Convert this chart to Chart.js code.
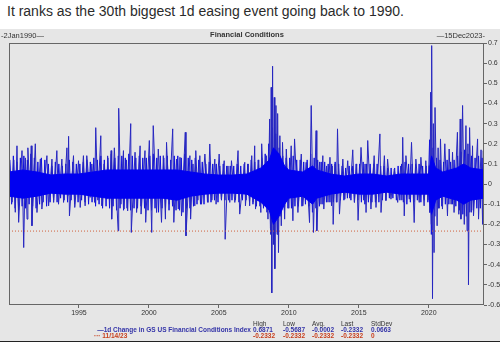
<!DOCTYPE html>
<html>
<head>
<meta charset="utf-8">
<script src="https://cdn.jsdelivr.net/npm/chart.js@4.4.0/dist/chart.umd.min.js"></script>
<style>
  body { margin: 0; width: 500px; height: 350px; background: #fff; position: relative; overflow: hidden; font-family: "Liberation Sans", Arial, sans-serif; }
  #headline { position: absolute; left: 7px; top: 3px; font-size: 14px; color: #2b2b2b; white-space: nowrap; }
  #panel { position: absolute; left: 0; top: 29px; width: 500px; height: 312px; background: #e6e6e6; border-bottom: 1px solid #222; }
  #panel canvas { position: absolute; left: 0; top: 1px; }
  .small { position: absolute; font-size: 6.5px; white-space: nowrap; line-height: 7px; }
  .top { font-size: 7.5px; line-height: 8px; }
  .hdr { color: #333; }
  .blue { color: #3434a8; font-weight: bold; }
  .red { color: #c8401e; font-weight: bold; }
</style>
</head>
<body>
<div id="headline">It ranks as the 30th biggest 1d easing event going back to 1990.</div>
<div id="panel">
  <canvas id="grafico" width="500" height="311"></canvas>
  <div class="small top hdr" style="left:1px;top:3px;">-2Jan1990—</div>
  <div class="small top hdr" style="left:0;width:494px;top:2px;text-align:center;font-weight:bold;">Financial Conditions</div>
  <div class="small top hdr" style="right:15px;top:3px;">—15Dec2023-</div>
</div>
<div id="stats"></div>

<script>
// solid core of the band
const coreYears  = [1990, 1991, 1992, 1993, 1994, 1995, 1996, 1997, 1998, 1999, 2000, 2001, 2002, 2003, 2004, 2005, 2006, 2007, 2008, 2008.6, 2008.9, 2009.3, 2009.7, 2010, 2011, 2011.7, 2012, 2013, 2014, 2015, 2016, 2017, 2018, 2019, 2020, 2020.2, 2020.5, 2021, 2022, 2022.5, 2023, 2023.95];
const coreTop    = [0.06, 0.07, 0.06, 0.045, 0.05, 0.05, 0.06, 0.07, 0.07, 0.07, 0.07, 0.07, 0.07, 0.06, 0.05, 0.045, 0.045, 0.05, 0.08, 0.12, 0.18, 0.15, 0.09, 0.07, 0.06, 0.09, 0.07, 0.05, 0.04, 0.05, 0.05, 0.04, 0.05, 0.05, 0.05, 0.14, 0.08, 0.06, 0.08, 0.10, 0.08, 0.07];
const coreBottom = [-0.06, -0.07, -0.06, -0.045, -0.05, -0.05, -0.06, -0.07, -0.07, -0.07, -0.07, -0.07, -0.08, -0.06, -0.05, -0.045, -0.045, -0.05, -0.09, -0.13, -0.20, -0.16, -0.10, -0.07, -0.06, -0.10, -0.07, -0.05, -0.04, -0.05, -0.05, -0.04, -0.05, -0.05, -0.05, -0.15, -0.08, -0.06, -0.08, -0.10, -0.08, -0.07];

// ragged edge of the band: 8 alternating readings per year, 1990..2023
const rippleStart = 1990;
const ripples = [
  [0.12, -0.10, 0.14, -0.12, 0.11, -0.13, 0.13, -0.11],
  [0.14, -0.12, 0.12, -0.10, 0.15, -0.11, 0.13, -0.12],
  [0.11, -0.10, 0.13, -0.09, 0.12, -0.11, 0.10, -0.09],
  [0.09, -0.08, 0.11, -0.09, 0.10, -0.07, 0.09, -0.08],
  [0.10, -0.09, 0.12, -0.08, 0.11, -0.10, 0.10, -0.09],
  [0.10, -0.08, 0.11, -0.09, 0.12, -0.10, 0.11, -0.09],
  [0.13, -0.11, 0.12, -0.10, 0.14, -0.12, 0.12, -0.11],
  [0.13, -0.12, 0.15, -0.11, 0.13, -0.13, 0.14, -0.12],
  [0.14, -0.13, 0.13, -0.12, 0.15, -0.13, 0.14, -0.12],
  [0.13, -0.12, 0.14, -0.11, 0.13, -0.12, 0.13, -0.13],
  [0.14, -0.13, 0.15, -0.12, 0.13, -0.14, 0.14, -0.12],
  [0.13, -0.12, 0.14, -0.13, 0.12, -0.11, 0.14, -0.13],
  [0.14, -0.13, 0.13, -0.14, 0.15, -0.12, 0.13, -0.12],
  [0.12, -0.11, 0.13, -0.10, 0.12, -0.10, 0.11, -0.10],
  [0.10, -0.09, 0.11, -0.09, 0.10, -0.08, 0.10, -0.09],
  [0.09, -0.08, 0.10, -0.08, 0.09, -0.08, 0.09, -0.08],
  [0.09, -0.08, 0.10, -0.09, 0.09, -0.08, 0.10, -0.08],
  [0.10, -0.09, 0.12, -0.10, 0.11, -0.11, 0.12, -0.11],
  [0.13, -0.12, 0.15, -0.14, 0.20, -0.22, 0.28, -0.26],
  [0.25, -0.24, 0.18, -0.16, 0.14, -0.13, 0.13, -0.12],
  [0.13, -0.12, 0.14, -0.11, 0.12, -0.11, 0.12, -0.11],
  [0.11, -0.10, 0.12, -0.11, 0.15, -0.14, 0.13, -0.12],
  [0.12, -0.11, 0.11, -0.10, 0.11, -0.09, 0.10, -0.09],
  [0.10, -0.09, 0.11, -0.09, 0.10, -0.08, 0.09, -0.08],
  [0.08, -0.07, 0.09, -0.08, 0.09, -0.09, 0.10, -0.08],
  [0.10, -0.09, 0.11, -0.10, 0.10, -0.09, 0.10, -0.09],
  [0.10, -0.09, 0.10, -0.09, 0.09, -0.08, 0.09, -0.08],
  [0.08, -0.07, 0.08, -0.07, 0.08, -0.08, 0.09, -0.08],
  [0.10, -0.09, 0.11, -0.10, 0.10, -0.09, 0.10, -0.09],
  [0.10, -0.08, 0.10, -0.09, 0.09, -0.08, 0.09, -0.09],
  [0.22, -0.25, 0.18, -0.16, 0.13, -0.12, 0.12, -0.11],
  [0.11, -0.10, 0.12, -0.10, 0.11, -0.10, 0.12, -0.11],
  [0.14, -0.13, 0.16, -0.15, 0.17, -0.16, 0.15, -0.14],
  [0.14, -0.13, 0.13, -0.12, 0.14, -0.12, 0.13, -0.12]
];

// swings [year, 1d change]
const swings = [
  [1990.00,0.15],[1990.22,-0.09],[1990.34,0.12],[1990.45,-0.14],[1990.57,0.19],[1990.69,-0.19],[1990.93,0.166],[1991.05,-0.315],[1991.17,0.13],[1991.29,-0.174],[1991.35,0.18],[1991.50,-0.06],[1991.59,0.19],[1991.64,-0.207],[1991.88,0.20],[1992.00,-0.141],[1992.24,0.124],[1992.35,-0.124],[1992.71,0.141],[1992.83,-0.108],[1993.07,0.124],[1993.19,-0.091],[1993.42,0.166],[1993.54,-0.10],[1993.78,0.124],[1993.90,-0.091],[1994.14,0.18],[1994.20,-0.06],[1994.26,0.237],[1994.32,-0.158],[1994.61,0.141],[1994.70,-0.116],[1994.97,0.116],[1995.09,-0.116],[1995.32,0.141],[1995.44,-0.108],[1995.56,0.141],
  [1995.80,-0.066],[1995.92,0.10],[1996.12,-0.091],[1996.20,0.28],[1996.35,-0.08],[1996.56,0.24],[1996.63,-0.108],[1996.80,0.10],[1996.99,-0.075],[1997.05,0.14],[1997.18,-0.08],[1997.30,0.166],[1997.34,-0.174],[1997.53,0.18],[1997.80,-0.232],[1997.84,0.376],[1998.00,-0.10],[1998.18,0.166],[1998.22,-0.124],[1998.40,0.12],[1998.48,-0.133],[1998.70,0.30],[1998.74,-0.24],[1999.01,0.158],[1999.12,-0.141],[1999.37,0.19],[1999.44,-0.149],[1999.72,0.166],[1999.77,-0.19],[2000.03,0.216],[2000.20,-0.24],[2000.31,0.29],[2000.55,-0.141],[2000.67,0.174],[2000.90,-0.19],[2001.03,0.141],[2001.18,-0.174],[2001.26,0.207],
  [2001.45,-0.10],[2001.70,0.274],[2001.78,-0.19],[2001.97,0.124],[2002.10,-0.124],[2002.22,0.133],[2002.33,-0.158],[2002.60,0.257],[2002.65,-0.257],[2002.93,0.141],[2002.98,-0.174],[2003.15,0.10],[2003.28,-0.108],[2003.35,0.166],[2003.50,-0.08],[2003.64,0.141],[2003.76,-0.10],[2004.00,0.149],[2004.23,-0.091],[2004.35,0.199],[2004.50,-0.08],[2004.71,0.124],[2004.80,-0.10],[2005.02,0.149],[2005.18,-0.075],[2005.38,0.116],[2005.45,-0.274],[2005.65,0.09],[2005.78,-0.091],[2005.90,0.116],[2006.14,-0.091],[2006.37,0.166],[2006.49,-0.149],[2006.85,0.108],[2006.90,-0.108],
  [2007.10,0.10],[2007.20,-0.108],[2007.35,0.141],[2007.45,-0.09],[2007.56,0.19],[2007.62,-0.124],[2007.85,0.12],[2008.00,-0.141],[2008.06,0.20],[2008.25,-0.10],[2008.39,0.141],[2008.51,-0.174],[2008.63,0.323],[2008.70,-0.25],[2008.74,0.48],[2008.78,-0.54],[2008.84,0.585],[2008.90,-0.30],[2008.96,0.43],[2009.00,-0.42],[2009.08,0.39],[2009.16,-0.25],[2009.20,0.35],[2009.26,-0.34],[2009.36,0.24],[2009.46,-0.207],[2009.55,0.207],[2009.70,-0.174],[2009.82,0.174],[2010.00,-0.12],[2010.17,0.19],[2010.29,-0.182],[2010.41,0.224],[2010.65,-0.141],[2010.89,0.149],[2011.00,-0.108],[2011.24,0.108],[2011.48,-0.191],[2011.60,0.39],[2011.76,-0.24],[2011.95,0.265],[2012.00,-0.232],[2012.20,0.11],[2012.30,-0.10],[2012.43,0.141],[2012.50,-0.124],
  [2012.70,0.09],[2012.80,-0.09],[2012.94,0.133],[2013.05,-0.108],[2013.10,0.09],[2013.17,-0.20],[2013.30,0.10],[2013.40,-0.09],[2013.48,0.274],[2013.62,-0.149],[2013.86,0.124],[2014.00,-0.075],[2014.21,0.116],[2014.35,-0.07],[2014.57,0.17],[2014.69,-0.091],[2014.85,0.10],[2014.95,-0.18],[2015.16,0.182],[2015.35,-0.08],[2015.45,0.10],[2015.52,-0.141],[2015.64,0.216],[2015.87,-0.124],[2016.10,0.141],[2016.23,-0.116],[2016.51,0.249],[2016.59,-0.141],[2016.83,0.141],[2016.94,-0.083],[2017.06,0.124],[2017.30,-0.075],[2017.54,0.075],[2017.78,-0.091],[2018.00,0.09],[2018.08,-0.08],[2018.14,0.232],[2018.25,-0.158],[2018.37,0.141],
  [2018.61,-0.075],[2018.77,0.207],[2018.96,-0.191],[2019.08,0.124],[2019.32,-0.091],[2019.44,0.133],[2019.67,-0.108],[2019.79,0.116],[2019.95,-0.08],[2020.03,0.091],[2020.08,-0.141],[2020.14,0.456],[2020.18,-0.20],[2020.21,0.6871],[2020.27,-0.5687],[2020.33,0.30],[2020.38,-0.34],[2020.45,0.38],[2020.60,-0.207],[2020.67,0.18],[2020.75,-0.12],[2020.84,0.224],[2020.98,-0.124],[2021.15,0.20],[2021.34,-0.158],[2021.46,0.174],[2021.60,-0.10],[2021.70,0.158],[2021.81,-0.141],[2022.05,0.257],[2022.15,-0.15],[2022.25,0.323],[2022.30,-0.174],[2022.42,0.39],[2022.54,-0.20],[2022.66,0.29],[2022.74,-0.232],[2022.80,0.20],[2022.84,-0.50],[2022.92,0.28],[2023.05,-0.14],[2023.13,0.19],[2023.20,-0.158],[2023.49,0.224],[2023.56,-0.174],[2023.74,0.17],[2023.85,-0.20],[2023.90,0.166],[2023.95,-0.2332]
];

const refLevel = -0.2332;           // 11/14/23 move
const startYear = 1990, endYear = 2023.95;
const tickYears = [1995, 2000, 2005, 2010, 2015, 2020];

const statHeaders = ["High", "Low", "Avg.", "Last", "StdDev"];
const seriesName = "1d Change in GS US Financial Conditions Index";
const seriesStats = ["0.6871", "-0.5687", "-0.0002", "-0.2332", "0.0663"];
const refName = "11/14/23";
const refStats = ["-0.2332", "-0.2332", "-0.2332", "-0.2332", "0"];

// tabla de estadísticas
const stats = document.getElementById("stats");
const colX = [253, 283, 312, 341, 371];
function fila(valores, top, clase) {
  valores.forEach((v, i) => {
    stats.innerHTML += `<div class="small ${clase}" style="left:${colX[i]}px;top:${top}px;">${v}</div>`;
  });
}
fila(statHeaders, 320, "hdr");
stats.innerHTML += `<div class="small blue" style="right:249px;top:326px;">—${seriesName}</div>`;
fila(seriesStats, 326, "blue");
stats.innerHTML += `<div class="small red" style="left:94px;top:331.5px;">··· ${refName}</div>`;
fila(refStats, 331.5, "red");

const ripplePoints = [];
ripples.forEach((fila, i) => {
  fila.forEach((v, k) => ripplePoints.push({ x: rippleStart + i + (k + 0.5) / fila.length, y: v }));
});

const marco = {
  id: "marco",
  afterDraw(chart) {
    const { ctx, chartArea: a } = chart;
    ctx.save();
    ctx.strokeStyle = "#666";
    ctx.lineWidth = 1;
    ctx.strokeRect(Math.round(a.left) + 0.5, Math.round(a.top) + 0.5, Math.round(a.right - a.left) - 1, Math.round(a.bottom - a.top) - 1);
    ctx.restore();
  }
};

new Chart(document.getElementById("grafico"), {
  type: "line",
  data: {
    datasets: [
      {
        data: [{ x: startYear, y: refLevel }, { x: endYear, y: refLevel }],
        borderColor: "#d0603c",
        borderWidth: 1,
        borderDash: [1, 2],
        pointRadius: 0,
        order: 0
      },
      {
        data: coreYears.map((x, i) => ({ x, y: coreTop[i] })),
        borderColor: "#0000f0",
        borderWidth: 1,
        backgroundColor: "#0000f0",
        fill: "+1",
        pointRadius: 0,
        order: 1
      },
      {
        data: coreYears.map((x, i) => ({ x, y: coreBottom[i] })),
        borderColor: "#0000f0",
        borderWidth: 1,
        pointRadius: 0,
        order: 2
      },
      {
        data: swings.map(([x, y]) => ({ x, y })),
        borderColor: "#2626c0",
        borderWidth: 1,
        pointRadius: 0,
        order: 3
      },
      {
        data: ripplePoints,
        borderColor: "#1010e0",
        borderWidth: 1,
        pointRadius: 0,
        order: 4
      }
    ]
  },
  options: {
    responsive: false,
    animation: false,
    events: [],
    layout: { padding: { left: 9, top: 13, right: 0, bottom: 0 } },
    plugins: { legend: { display: false }, tooltip: { enabled: false } },
    scales: {
      x: {
        type: "linear",
        min: startYear,
        max: endYear,
        afterBuildTicks: s => { s.ticks = tickYears.map(v => ({ value: v })); },
        afterFit: s => { s.height = 36; },
        grid: { drawOnChartArea: false, tickLength: 3, color: "#666" },
        border: { display: false },
        ticks: {
          callback: v => String(v),
          color: "#333",
          font: { family: "Liberation Sans", size: 7 },
          padding: 1,
          maxRotation: 0
        }
      },
      y: {
        position: "right",
        min: -0.6,
        max: 0.7,
        afterFit: s => { s.width = 16; },
        grid: { drawOnChartArea: false, tickLength: 3, color: "#666" },
        border: { display: false },
        ticks: {
          stepSize: 0.1,
          callback: v => String(Math.round(v * 10) / 10),
          color: "#333",
          font: { family: "Liberation Sans", size: 7 },
          padding: 1
        }
      }
    }
  },
  plugins: [marco]
});
</script>
</body>
</html>
